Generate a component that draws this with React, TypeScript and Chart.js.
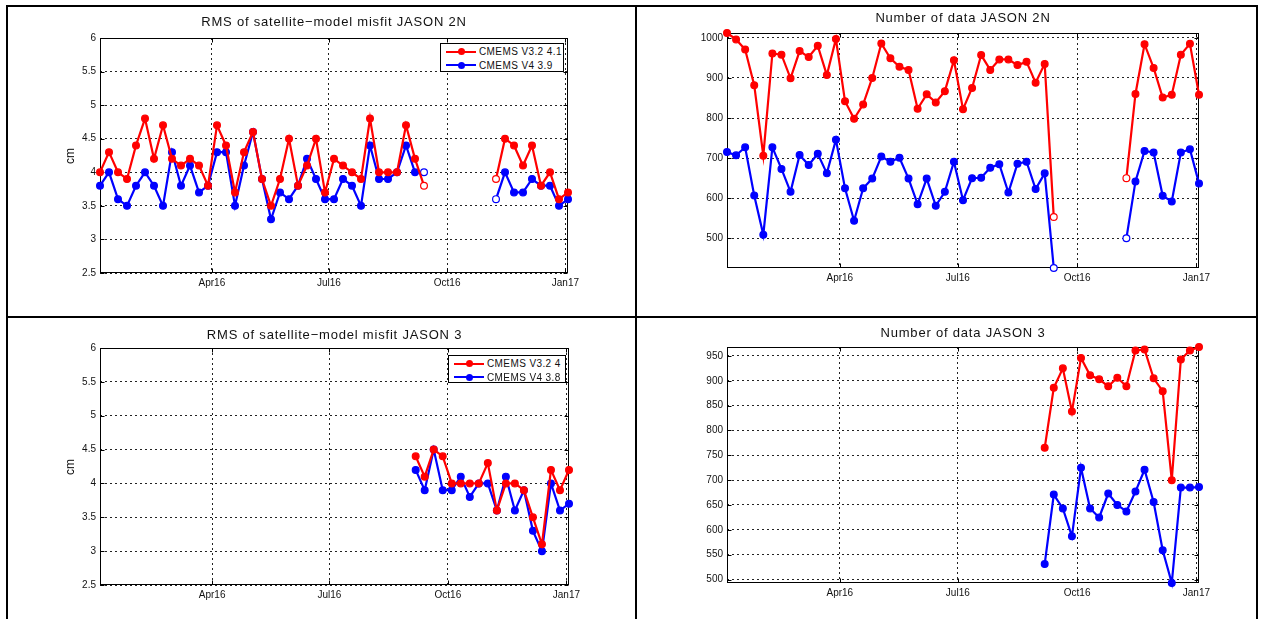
import React, { useEffect, useRef } from "react";
import { Chart, registerables } from "chart.js";

Chart.register(...registerables);

// ---------- data ----------
const weekDates = [
  "2016-01-05", "2016-01-12", "2016-01-19", "2016-01-26", "2016-02-02", "2016-02-09", "2016-02-16", "2016-02-23",
  "2016-03-01", "2016-03-08", "2016-03-15", "2016-03-22", "2016-03-29", "2016-04-05", "2016-04-12", "2016-04-19",
  "2016-04-26", "2016-05-03", "2016-05-10", "2016-05-17", "2016-05-24", "2016-05-31", "2016-06-07", "2016-06-14",
  "2016-06-21", "2016-06-28", "2016-07-05", "2016-07-12", "2016-07-19", "2016-07-26", "2016-08-02", "2016-08-09",
  "2016-08-16", "2016-08-23", "2016-08-30", "2016-09-06", "2016-09-13", "2016-09-20", "2016-09-27", "2016-10-04",
  "2016-10-11", "2016-10-18", "2016-10-25", "2016-11-01", "2016-11-08", "2016-11-15", "2016-11-22", "2016-11-29",
  "2016-12-06", "2016-12-13", "2016-12-20", "2016-12-27", "2017-01-03",
];
const jason3FirstWeek = "2016-09-06";

const xTickDates = ["2016-04-01", "2016-07-01", "2016-10-01", "2017-01-01"];
const xTickLabels = ["Apr16", "Jul16", "Oct16", "Jan17"];

const rmsTicks = [2.5, 3, 3.5, 4, 4.5, 5, 5.5, 6];
const countJ2NTicks = [500, 600, 700, 800, 900, 1000];
const countJ3Ticks = [500, 550, 600, 650, 700, 750, 800, 850, 900, 950];

// RMS JASON 2N
const rmsJ2N_V32 = [
  4.0, 4.3, 4.0, 3.9, 4.4, 4.8, 4.2, 4.7, 4.2, 4.1, 4.2, 4.1, 3.8, 4.7, 4.4, 3.7, 4.3, 4.6, 3.9, 3.5,
  3.9, 4.5, 3.8, 4.1, 4.5, 3.7, 4.2, 4.1, 4.0, 3.9, 4.8, 4.0, 4.0, 4.0, 4.7, 4.2, 3.8,
  null, null, null, null, null, null, null,
  3.9, 4.5, 4.4, 4.1, 4.4, 3.8, 4.0, 3.6, 3.7,
];
const rmsJ2N_V4 = [
  3.8, 4.0, 3.6, 3.5, 3.8, 4.0, 3.8, 3.5, 4.3, 3.8, 4.1, 3.7, 3.8, 4.3, 4.3, 3.5, 4.1, 4.6, 3.9, 3.3,
  3.7, 3.6, 3.8, 4.2, 3.9, 3.6, 3.6, 3.9, 3.8, 3.5, 4.4, 3.9, 3.9, 4.0, 4.4, 4.0, 4.0,
  null, null, null, null, null, null, null,
  3.6, 4.0, 3.7, 3.7, 3.9, 3.8, 3.8, 3.5, 3.6,
];

// Number of data JASON 2N
const countJ2N_V32 = [
  1012, 996, 971, 882, 706, 961, 958, 899, 967, 952, 980, 907, 997, 842, 798, 834, 900, 986, 949, 928,
  920, 823, 859, 839, 867, 944, 822, 875, 957, 920, 946, 946, 932, 940, 888, 935, 553,
  null, null, null, null, null, null, null,
  650, 860, 984, 925, 851, 858, 958, 985, 858,
];
const countJ2N_V4 = [
  715, 707, 727, 607, 509, 727, 673, 616, 708, 683, 711, 662, 746, 625, 544, 625, 649, 704, 691, 701,
  649, 585, 649, 581, 616, 691, 595, 650, 651, 676, 685, 614, 686, 691, 623, 662, 426,
  null, null, null, null, null, null, null,
  500, 642, 718, 714, 606, 592, 714, 722, 637,
];

// RMS JASON 3
const rmsJ3_V32 = [4.4, 4.1, 4.5, 4.4, 4.0, 4.0, 4.0, 4.0, 4.3, 3.6, 4.0, 4.0, 3.9, 3.5, 3.1, 4.2, 3.9, 4.2];
const rmsJ3_V4 = [4.2, 3.9, 4.5, 3.9, 3.9, 4.1, 3.8, 4.0, 4.0, 3.6, 4.1, 3.6, 3.9, 3.3, 3.0, 4.0, 3.6, 3.7];

// Number of data JASON 3
const countJ3_V32 = [765, 886, 925, 838, 946, 911, 903, 889, 906, 889, 961, 963, 905, 879, 700, 943, 961, 968];
const countJ3_V4 = [531, 671, 643, 587, 725, 643, 625, 673, 650, 637, 677, 721, 656, 559, 493, 685, 685, 686];

const legendJ2N = ["CMEMS V3.2 4.1", "CMEMS V4 3.9"];
const legendJ3 = ["CMEMS V3.2 4", "CMEMS V4 3.8"];

// ---------- helpers ----------
const RED = "#ff0000";
const BLUE = "#0000ff";
const FONT = "'Liberation Sans', Arial, Helvetica, sans-serif";

const dayOf = (s: string) => {
  const [y, m, d] = s.split("-").map(Number);
  return (Date.UTC(y, m - 1, d) - Date.UTC(2016, 0, 1)) / 86400000;
};

const X_MIN = dayOf(weekDates[0]);
const X_MAX = dayOf(weekDates[weekDates.length - 1]);
const xTickDays = xTickDates.map(dayOf);

const j3Dates = weekDates.slice(weekDates.indexOf(jason3FirstWeek));

const PAD_L = 45;
const PAD_T = 10;
const PAD_R = 25;
const PAD_B = 25;

const framePlugin = {
  id: "matlabFrame",
  beforeDatasetsDraw(chart: any) {
    const { ctx, chartArea: a, scales } = chart;
    ctx.save();
    ctx.strokeStyle = "#000";
    ctx.lineWidth = 1;
    const l = Math.round(a.left) + 0.5;
    const t = Math.round(a.top) + 0.5;
    const r = Math.round(a.right) - 0.5;
    const b = Math.round(a.bottom) - 0.5;
    ctx.strokeRect(l, t, r - l, b - t);
    const tl = 4;
    ctx.beginPath();
    scales.x.ticks.forEach((tk: any) => {
      const px = Math.round(scales.x.getPixelForValue(tk.value)) + 0.5;
      ctx.moveTo(px, b);
      ctx.lineTo(px, b - tl);
      ctx.moveTo(px, t);
      ctx.lineTo(px, t + tl);
    });
    scales.y.ticks.forEach((tk: any) => {
      const py = Math.round(scales.y.getPixelForValue(tk.value)) + 0.5;
      ctx.moveTo(l, py);
      ctx.lineTo(l + tl, py);
      ctx.moveTo(r, py);
      ctx.lineTo(r - tl, py);
    });
    ctx.stroke();
    ctx.restore();
  },
};

function makeDataset(dates: string[], values: (number | null)[], color: string) {
  return {
    data: dates.map((d, i) => ({ x: dayOf(d), y: values[i] })),
    borderColor: color,
    backgroundColor: color,
    borderWidth: 2.2,
    pointRadius: 3.4,
    pointBorderWidth: 1.2,
    pointBorderColor: color,
    pointBackgroundColor: (ctx: any) => {
      const i = ctx.dataIndex;
      const prevGap = i > 0 && values[i - 1] == null;
      const nextGap = i < values.length - 1 && values[i + 1] == null;
      return prevGap || nextGap ? "#ffffff" : color;
    },
    spanGaps: false,
    tension: 0,
    clip: false as any,
  };
}

type PanelSpec = {
  plot: { left: number; top: number; right: number; bottom: number };
  title: string;
  titleY: number;
  ylabel?: string;
  yTicks: number[];
  yMin: number;
  yMax: number;
  datasets: any[];
  legend?: { labels: string[]; left: number; top: number; width: number; height: number };
};

function ChartPanel({ spec }: { spec: PanelSpec }) {
  const ref = useRef<HTMLCanvasElement>(null);
  const W = spec.plot.right - spec.plot.left + PAD_L + PAD_R;
  const H = spec.plot.bottom - spec.plot.top + PAD_T + PAD_B;
  const left = spec.plot.left - PAD_L;
  const top = spec.plot.top - PAD_T;

  useEffect(() => {
    const tickFont = { family: FONT, size: 10 };
    const chart = new Chart(ref.current as HTMLCanvasElement, {
      type: "line",
      data: { datasets: spec.datasets },
      plugins: [framePlugin],
      options: {
        animation: false,
        responsive: false,
        devicePixelRatio: 1,
        layout: { padding: { left: 0, top: PAD_T, right: PAD_R, bottom: 0 } },
        plugins: { legend: { display: false }, tooltip: { enabled: false }, title: { display: false } },
        scales: {
          x: {
            type: "linear",
            min: X_MIN,
            max: X_MAX,
            afterBuildTicks: (s: any) => {
              s.ticks = xTickDays.map((v) => ({ value: v }));
            },
            afterFit: (s: any) => {
              s.height = PAD_B;
            },
            ticks: {
              autoSkip: false,
              maxRotation: 0,
              padding: 4,
              color: "#111",
              font: tickFont,
              callback: (_v: any, i: number) => xTickLabels[i],
            },
            grid: { color: "#222", lineWidth: 1, drawTicks: false },
            border: { display: false, dash: [2, 3] },
          },
          y: {
            type: "linear",
            min: spec.yMin,
            max: spec.yMax,
            afterBuildTicks: (s: any) => {
              s.ticks = spec.yTicks.map((v) => ({ value: v }));
            },
            afterFit: (s: any) => {
              s.width = PAD_L;
            },
            ticks: {
              autoSkip: false,
              padding: 4,
              color: "#111",
              font: tickFont,
              callback: (_v: any, i: number) => String(spec.yTicks[i]),
            },
            grid: { color: "#222", lineWidth: 1, drawTicks: false },
            border: { display: false, dash: [2, 3] },
          },
        },
      } as any,
    });
    return () => chart.destroy();
  }, []);

  const cx = (spec.plot.left + spec.plot.right) / 2;
  const cy = (spec.plot.top + spec.plot.bottom) / 2;

  return (
    <>
      <canvas
        ref={ref}
        width={W}
        height={H}
        style={{ position: "absolute", left, top, width: W, height: H }}
      />
      <div
        style={{
          position: "absolute",
          left: cx - 250,
          width: 500,
          top: spec.titleY - 8,
          height: 16,
          lineHeight: "16px",
          textAlign: "center",
          fontFamily: FONT,
          fontSize: 13,
          letterSpacing: "0.8px",
          color: "#111",
          whiteSpace: "nowrap",
        }}
      >
        {spec.title}
      </div>
      {spec.ylabel && (
        <div
          style={{
            position: "absolute",
            left: 70 - 20,
            top: cy - 8,
            width: 40,
            height: 16,
            lineHeight: "16px",
            textAlign: "center",
            fontFamily: FONT,
            fontSize: 12,
            color: "#111",
            transform: "rotate(-90deg)",
          }}
        >
          {spec.ylabel}
        </div>
      )}
      {spec.legend && (
        <div
          style={{
            position: "absolute",
            left: spec.legend.left,
            top: spec.legend.top,
            width: spec.legend.width,
            height: spec.legend.height,
            boxSizing: "border-box",
            border: "1px solid #000",
            background: "#fff",
          }}
        >
          {spec.legend.labels.map((lab, i) => {
            const color = i === 0 ? RED : BLUE;
            return (
              <div
                key={lab}
                style={{ position: "absolute", left: 0, top: 1 + i * 13.5, height: 13, width: "100%" }}
              >
                <div
                  style={{
                    position: "absolute",
                    left: 5,
                    top: 5.5,
                    width: 30,
                    height: 2,
                    background: color,
                  }}
                />
                <div
                  style={{
                    position: "absolute",
                    left: 16.5,
                    top: 3,
                    width: 7,
                    height: 7,
                    borderRadius: "50%",
                    background: color,
                  }}
                />
                <div
                  style={{
                    position: "absolute",
                    left: 38,
                    top: 0,
                    lineHeight: "13px",
                    fontFamily: FONT,
                    fontSize: 10,
                    letterSpacing: "0.4px",
                    color: "#111",
                    whiteSpace: "nowrap",
                  }}
                >
                  {lab}
                </div>
              </div>
            );
          })}
        </div>
      )}
    </>
  );
}

const panels: PanelSpec[] = [
  {
    plot: { left: 100, top: 38, right: 568, bottom: 273 },
    title: "RMS of satellite\u2212model misfit JASON 2N",
    titleY: 22,
    ylabel: "cm",
    yTicks: rmsTicks,
    yMin: rmsTicks[0],
    yMax: rmsTicks[rmsTicks.length - 1],
    datasets: [makeDataset(weekDates, rmsJ2N_V32, RED), makeDataset(weekDates, rmsJ2N_V4, BLUE)],
    legend: { labels: legendJ2N, left: 440, top: 43, width: 124, height: 29 },
  },
  {
    plot: { left: 727, top: 33, right: 1199, bottom: 268 },
    title: "Number of data JASON 2N",
    titleY: 18,
    yTicks: countJ2NTicks,
    yMin: Math.min(...(countJ2N_V4.filter((v) => v != null) as number[])),
    yMax: Math.max(...(countJ2N_V32.filter((v) => v != null) as number[])),
    datasets: [makeDataset(weekDates, countJ2N_V32, RED), makeDataset(weekDates, countJ2N_V4, BLUE)],
  },
  {
    plot: { left: 100, top: 348, right: 569, bottom: 585 },
    title: "RMS of satellite\u2212model misfit JASON 3",
    titleY: 335,
    ylabel: "cm",
    yTicks: rmsTicks,
    yMin: rmsTicks[0],
    yMax: rmsTicks[rmsTicks.length - 1],
    datasets: [makeDataset(j3Dates, rmsJ3_V32, RED), makeDataset(j3Dates, rmsJ3_V4, BLUE)],
    legend: { labels: legendJ3, left: 448, top: 355, width: 118, height: 28 },
  },
  {
    plot: { left: 727, top: 347, right: 1199, bottom: 583 },
    title: "Number of data JASON 3",
    titleY: 333,
    yTicks: countJ3Ticks,
    yMin: Math.min(...countJ3_V4),
    yMax: Math.max(...countJ3_V32),
    datasets: [makeDataset(j3Dates, countJ3_V32, RED), makeDataset(j3Dates, countJ3_V4, BLUE)],
  },
];

function Line({ left, top, width, height }: { left: number; top: number; width: number; height: number }) {
  return <div style={{ position: "absolute", left, top, width, height, background: "#000" }} />;
}

export default function App() {
  return (
    <div
      style={{
        position: "absolute",
        left: 0,
        top: 0,
        width: 1263,
        height: 619,
        background: "#fff",
        overflow: "hidden",
      }}
    >
      <Line left={6} top={5} width={1252} height={2} />
      <Line left={6} top={316} width={1252} height={2} />
      <Line left={6} top={5} width={2} height={614} />
      <Line left={635} top={5} width={2} height={614} />
      <Line left={1256} top={5} width={2} height={614} />
      {panels.map((p, i) => (
        <ChartPanel key={i} spec={p} />
      ))}
    </div>
  );
}
